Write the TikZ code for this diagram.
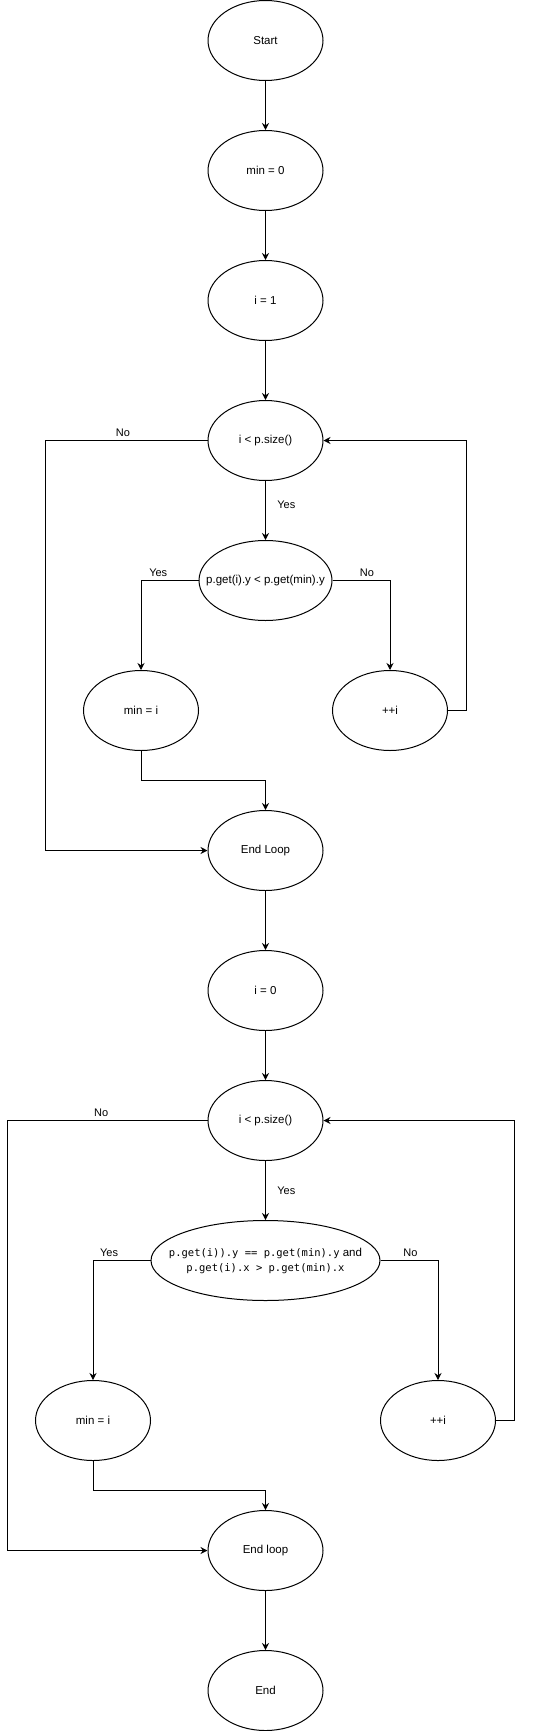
\documentclass[tikz,border=0pt]{standalone}
\usepackage{fontspec}
\setmainfont{Liberation Sans}
\newfontfamily\codefont{DejaVu Sans Mono}
\usetikzlibrary{shapes.geometric,arrows.meta,positioning}

\begin{document}
\begin{tikzpicture}[node distance=130pt, auto, line width=1pt, >={Stealth[length=7pt,width=7pt]},
	blob/.style={draw, ellipse, minimum width=115pt, minimum height=80pt, inner sep=0pt, align=center, font=\fontsize{11.5}{15}\selectfont},
	wideblob/.style={blob, inner xsep=-30pt, minimum width=#1},
	lbl/.style={font=\fontsize{11}{13}\selectfont}]
	\useasboundingbox (0,0) rectangle (546pt,-1731pt);
	\node[blob] (start) at (265.5pt,-40.5pt) {Start};
	\node[blob] (min0) [below of=start] {min = 0};
	\node[blob] (i1) [below of=min0] {i = 1};
	\node[blob] (loop1) [node distance=140pt, below of=i1] {i < p.size()};
	\node[wideblob=133pt] (dec1) [node distance=140pt, below of=loop1] {p.get(i).y < p.get(min).y};
	\node[blob] (mini) [below of=dec1, xshift=-124.5pt] {min = i};
	\node[blob] (plusi) [below of=dec1, xshift=124.5pt] {++i};
	\node[blob] (endl1) [node distance=270pt, below of=dec1] {End Loop};
	\node[blob] (i0) [node distance=140pt, below of=endl1] {i = 0};
	\node[blob] (loop2) [below of=i0] {i < p.size()};
	\node[wideblob=229pt] (dec2) [node distance=140pt, below of=loop2] {{\fontsize{10.5}{15}\codefont p.get(i)).y == p.get(min).y} and\\{\fontsize{10.5}{15}\codefont p.get(i).x > p.get(min).x}};
	\node[blob] (mini2) [node distance=160pt, below of=dec2, xshift=-172.5pt] {min = i};
	\node[blob] (plusi2) [node distance=160pt, below of=dec2, xshift=172.5pt] {++i};
	\node[blob] (endl2) [node distance=290pt, below of=dec2] {End loop};
	\node[blob] (stop) [node distance=140pt, below of=endl2] {End};
	\draw[->] (start) to (min0);
	\draw[->] (min0) to (i1);
	\draw[->] (i1) to (loop1);
	\draw[->] (loop1) to node[lbl, pos=0.4, right=8pt] {Yes} (dec1);
	\draw[->] (dec1) -| node[lbl, pos=0.35, above] {Yes} (mini);
	\draw[->] (dec1) -| node[lbl, pos=0.3, above] {No} (plusi);
	\draw[->] (plusi) -- ++(76pt,0) |- (loop1);
	\draw[->] (loop1) -- node[lbl, pos=0.52, above] {No} ++(-220.5pt,0) |- (endl1);
	\draw[->] (mini) -- ++(0,-70pt) -| (endl1);
	\draw[->] (endl1) to (i0);
	\draw[->] (i0) to (loop2);
	\draw[->] (loop2) to node[lbl, pos=0.5, right=8pt] {Yes} (dec2);
	\draw[->] (dec2) -| node[lbl, pos=0.36, above] {Yes} (mini2);
	\draw[->] (dec2) -| node[lbl, pos=0.26, above] {No} (plusi2);
	\draw[->] (plusi2) -- ++(76pt,0) |- (loop2);
	\draw[->] (loop2) -- node[lbl, pos=0.53, above] {No} ++(-258.5pt,0) |- (endl2);
	\draw[->] (mini2) -- ++(0,-70pt) -| (endl2);
	\draw[->] (endl2) to (stop);
\end{tikzpicture}
\end{document}
